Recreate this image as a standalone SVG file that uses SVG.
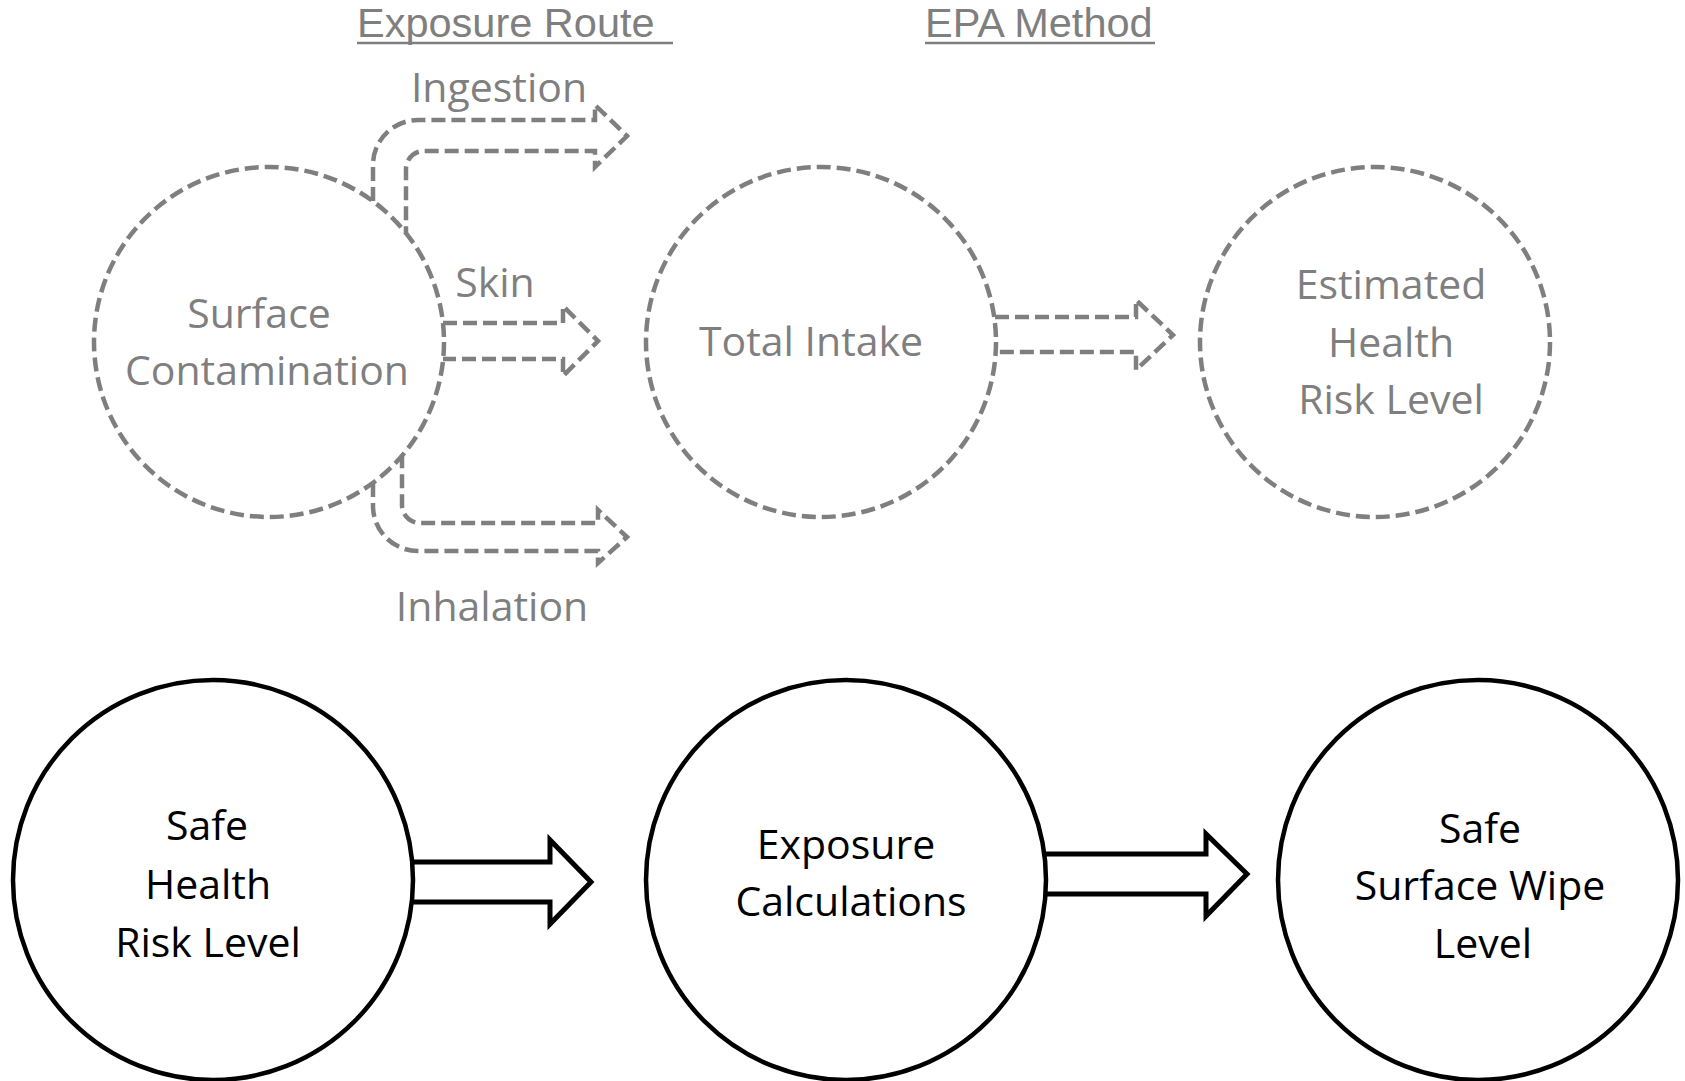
<svg xmlns="http://www.w3.org/2000/svg" width="1685" height="1081" viewBox="0 0 1685 1081">
<style>
.dc{fill:none;stroke:#7f7f7f;stroke-width:4.5;stroke-dasharray:14 6}
.da{fill:none;stroke:#7f7f7f;stroke-width:4.5;stroke-dasharray:14 6;stroke-linejoin:miter}
.sc{fill:none;stroke:#000;stroke-width:4.5}
.sa{fill:none;stroke:#000;stroke-width:5;stroke-linejoin:miter}
.g{font-family:"Open Sans","Noto Sans",sans-serif;font-size:41px;fill:#7f7f7f;text-anchor:middle}
.b{font-family:"Open Sans","Noto Sans",sans-serif;font-size:41px;fill:#000;text-anchor:middle}
.t{font-family:"Liberation Sans",Arial,sans-serif;font-size:41.5px;fill:#7f7f7f}
.u{stroke:#7f7f7f;stroke-width:2.5}
</style>
<rect width="1685" height="1081" fill="#fff"/>
<g id="headers">
<text class="t" x="357" y="37">Exposure Route</text>
<line class="u" x1="357" y1="43" x2="673" y2="43"/>
<text class="t" x="925" y="37">EPA Method</text>
<line class="u" x1="925" y1="43" x2="1155" y2="43"/>
</g>
<g id="connectors">
<path class="da" d="M373,201 V165 A45,45 0 0 1 418,120 H595 V105 L627,136 L595,167 V151 H424 A18,18 0 0 0 406,169 V233"/>
<path class="da" d="M443,323 H563 V306 L598,341 L563,376 V359 H443"/>
<path class="da" d="M373,483 V506 A45,45 0 0 0 418,551 H598 V563 L627,537 L598,510 V523 H420 A18,18 0 0 1 402,505 V456"/>
<path class="da" d="M995,317 H1136 V300 L1173,335 L1136,370 V352 H995"/>
<path class="sa" d="M413,862 H550 V840 L591,882 L550,924 V902 H413"/>
<path class="sa" d="M1045,854 H1206 V834 L1247,874 L1206,916 V894 H1045"/>
<text class="g" x="499" y="102">Ingestion</text>
<text class="g" x="495" y="297">Skin</text>
<text class="g" x="492" y="621">Inhalation</text>
</g>
<g id="surface-contamination">
<circle class="dc" cx="269" cy="342" r="175"/>
<text class="g" x="259" y="328">Surface</text>
<text class="g" x="267" y="385">Contamination</text>
</g>
<g id="total-intake">
<circle class="dc" cx="821" cy="342" r="175"/>
<text class="g" x="811" y="356">Total Intake</text>
</g>
<g id="estimated-risk">
<circle class="dc" cx="1375" cy="342" r="175"/>
<text class="g" x="1391" y="299">Estimated</text>
<text class="g" x="1391" y="357">Health</text>
<text class="g" x="1391" y="414">Risk Level</text>
</g>
<g id="safe-risk">
<circle class="sc" cx="213" cy="880" r="200"/>
<text class="b" x="207" y="840">Safe</text>
<text class="b" x="208" y="899">Health</text>
<text class="b" x="208" y="957">Risk Level</text>
</g>
<g id="exposure-calculations">
<circle class="sc" cx="846" cy="880" r="200"/>
<text class="b" x="846" y="859">Exposure</text>
<text class="b" x="851" y="916">Calculations</text>
</g>
<g id="safe-wipe">
<circle class="sc" cx="1478" cy="880" r="200"/>
<text class="b" x="1480" y="843">Safe</text>
<text class="b" x="1480" y="900">Surface Wipe</text>
<text class="b" x="1483" y="958">Level</text>
</g>
</svg>
